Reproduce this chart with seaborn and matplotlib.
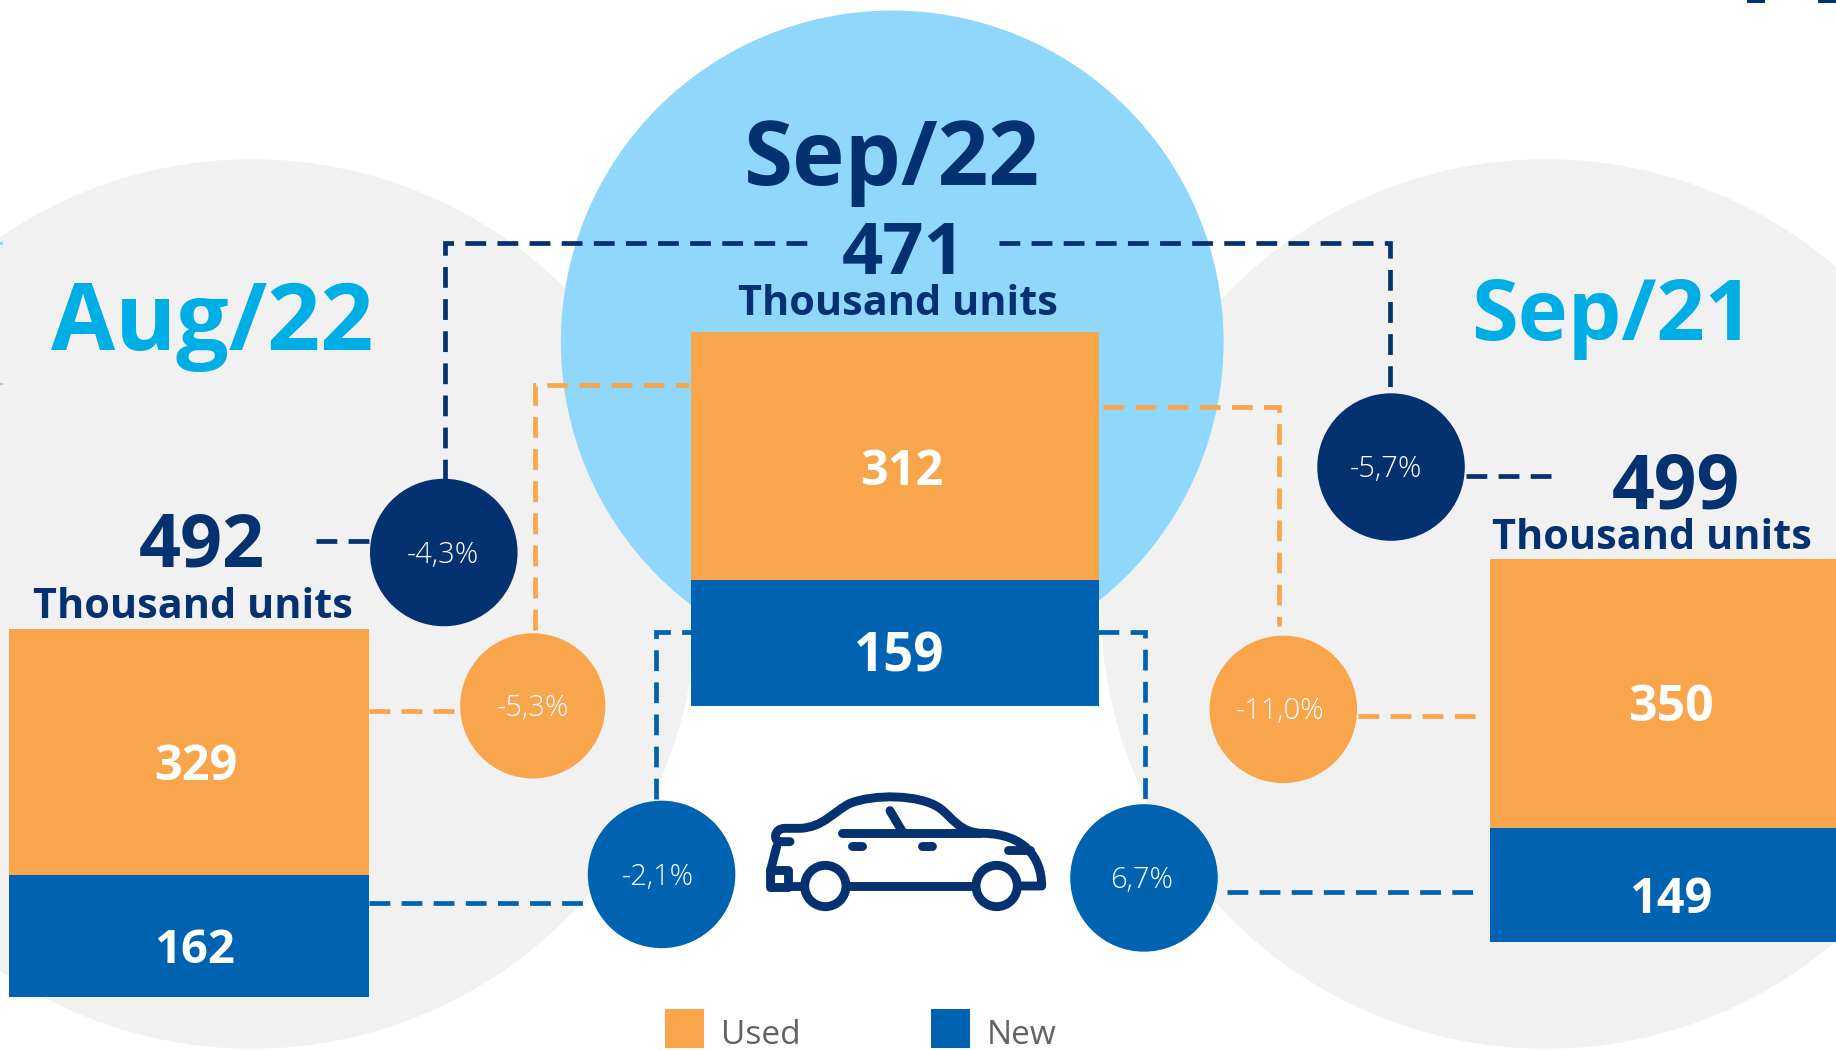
import matplotlib
matplotlib.use("Agg")
import matplotlib.pyplot as plt
from matplotlib.patches import Circle, Rectangle, PathPatch
from matplotlib.path import Path
import seaborn as sns

periods = ["Aug/22", "Sep/22", "Sep/21"]
used = [329, 312, 350]
new = [162, 159, 149]
totals = [492, 471, 499]
chg_total = [-4.3, -5.7]
chg_used = [-5.3, -11.0]
chg_new = [-2.1, 6.7]
unit = "Thousand units"
legend_labels = ["Used", "New"]

ORANGE, BLUE, NAVY = "#f9a54c", "#0063b2", "#04316f"
CYAN, GRAY, SKY = "#00aee6", "#f1f1f1", "#8fd7fb"
FONT = ["Open Sans", "DejaVu Sans"]
W, H = 1568.0, 897.0

sns.set_theme(style="white")
plt.rcParams["font.family"] = FONT
fig = plt.figure(figsize=(18.36, 10.5), dpi=100, facecolor="white")


def pixel_axes(z):
    ax = fig.add_axes([0, 0, 1, 1], zorder=z)
    ax.set_xlim(0, W)
    ax.set_ylim(H, 0)
    ax.axis("off")
    ax.patch.set_alpha(0)
    return ax


bg = pixel_axes(0)
fg = pixel_axes(2)

bg.add_patch(Circle((215, 516), 380, fc=GRAY, ec="none"))
bg.add_patch(Circle((1320, 516), 380, fc=GRAY, ec="none"))
bg.add_patch(Circle((762, 292), 283, fc=SKY, ec="none"))
for y in (208, 328):
    bg.add_patch(Rectangle((0, y - 1), 2.5, 2, fc=SKY, ec="none"))
for x in (1492, 1553):
    fg.add_patch(Rectangle((x, 0), 15, 2.5, fc=NAVY, ec="none"))

# stacked bars, one small axes per period
extents = [(8, 315, 537.5, 851.5), (590.5, 938.5, 284, 603.5), (1272.5, 1568, 477.5, 805)]
for period, u, n, (x0, x1, y0, y1) in zip(periods, used, new, extents):
    ax = fig.add_axes([x0 / W, 1 - y1 / H, (x1 - x0) / W, (y1 - y0) / H], zorder=1)
    sns.barplot(x=[period], y=[u + n], color=ORANGE, saturation=1, width=1, linewidth=0, ax=ax)
    sns.barplot(x=[period], y=[n], color=BLUE, saturation=1, width=1, linewidth=0, ax=ax)
    ax.set_xlim(-0.5, 0.5)
    ax.set_ylim(0, u + n)
    ax.axis("off")


def dash(points, color):
    xs, ys = zip(*points)
    fg.plot(xs, ys, color=color, lw=3.4, ls=(0, (4.4, 2.4)), dash_capstyle="butt",
            dash_joinstyle="miter", zorder=1)


dash([(380, 410), (380, 208), (695, 208)], NAVY)
dash([(853, 208), (1187, 208), (1187, 336)], NAVY)
dash([(270, 462), (318, 462)], NAVY)
dash([(1252, 407), (1333, 407)], NAVY)
dash([(457, 538), (457, 329), (588, 329)], ORANGE)
dash([(315, 607), (393, 607)], ORANGE)
dash([(942, 348), (1092, 348), (1092, 535)], ORANGE)
dash([(1160, 612), (1265, 612)], ORANGE)
dash([(560, 683), (560, 540), (590, 540)], BLUE)
dash([(315, 771), (505, 771)], BLUE)
dash([(938, 540), (978, 540), (978, 688)], BLUE)
dash([(1048, 762), (1258, 762)], BLUE)


def pct(v):
    return f"{v:.1f}%".replace(".", ",")


def bubble(x, y, r, color, v, tx):
    fg.add_patch(Circle((x, y), r, fc=color, ec="none", zorder=3))
    fg.text(tx, y + 2, pct(v), color="white", fontsize=21, ha="center", va="center",
            zorder=4, fontweight="light")


bubble(379, 472, 63, NAVY, chg_total[0], 378)
bubble(1188, 399, 63, NAVY, chg_total[1], 1184)
bubble(455, 603, 62, ORANGE, chg_used[0], 455)
bubble(1096, 606, 63, ORANGE, chg_used[1], 1093)
bubble(565, 747, 63, BLUE, chg_new[0], 562)
bubble(977, 750, 63, BLUE, chg_new[1], 975)


def txt(x, y, s, color, size, weight="bold"):
    fg.text(x, y, s, color=color, fontsize=size, fontweight=weight,
            ha="center", va="center", zorder=4)


txt(181, 278, periods[0], CYAN, 67)
txt(762, 138, periods[1], NAVY, 64)
txt(1377, 272, periods[2], CYAN, 61)
txt(172, 468, str(totals[0]), NAVY, 53)
txt(772, 218, str(totals[1]), NAVY, 52)
txt(1431, 418, str(totals[2]), NAVY, 54)
txt(165, 519, unit, NAVY, 29.8)
txt(767, 260, unit, NAVY, 29.8)
txt(1411, 460, unit, NAVY, 29.8)
txt(167, 656, str(used[0]), "white", 35)
txt(770, 404, str(used[1]), "white", 35)
txt(1427, 605, str(used[2]), "white", 36)
txt(166, 812, str(new[0]), "white", 34)
txt(768, 562, str(new[1]), "white", 38)
txt(1427, 769, str(new[2]), "white", 35)

# legend
fg.add_patch(Rectangle((568, 862), 33, 33, fc=ORANGE, ec="none"))
fg.add_patch(Rectangle((795, 862), 33, 33, fc=BLUE, ec="none"))
fg.text(616, 885, legend_labels[0], color="#5f6366", fontsize=24, ha="left", va="center")
fg.text(843, 885, legend_labels[1], color="#5f6366", fontsize=24, ha="left", va="center")


# car icon, traced in crop coordinates
def cx(p):
    return ((740 + p[0] / 3) / 1836 * W, (770 + p[1] / 3) / 1050 * H)


CAR_LW = 6.4


def curve(verts, codes):
    path = Path([cx(v) for v in verts], codes)
    fg.add_patch(PathPatch(path, fc="none", ec=NAVY, lw=CAR_LW, capstyle="round",
                           joinstyle="round", zorder=3))


M, L, C = Path.MOVETO, Path.LINETO, Path.CURVE4
curve([(150, 215), (120, 215),
       (100, 215), (100, 175), (135, 175),
       (180, 175),
       (250, 172), (280, 125), (330, 100),
       (400, 72), (540, 72), (600, 115),
       (640, 145), (660, 190), (730, 190),
       (850, 192), (905, 260), (905, 348),
       (845, 348)],
      [M, L, C, C, C, L, C, C, C, C, C, C, C, C, C, C, C, C, L])
curve([(330, 348), (695, 348)], [M, L])
curve([(150, 348), (185, 348)], [M, L])
curve([(110, 230), (92, 300)], [M, L])
curve([(305, 190), (720, 190)], [M, L])
curve([(450, 122), (487, 185)], [M, L])
curve([(335, 227), (365, 227)], [M, L])
curve([(545, 227), (575, 227)], [M, L])
curve([(805, 240), (870, 240)], [M, L])
x0, y0 = cx((90, 300))
x1, y1 = cx((145, 352))
fg.add_patch(Rectangle((x0, y0), x1 - x0, y1 - y0, fc="none", ec=NAVY, lw=CAR_LW,
                       joinstyle="round", zorder=3))
for p in ((256, 348), (770, 348)):
    fg.add_patch(Circle(cx(p), 62 / 3 / 1.171, fc="white", ec=NAVY, lw=CAR_LW, zorder=4))

fig.savefig("out.png", dpi=100, facecolor="white")
